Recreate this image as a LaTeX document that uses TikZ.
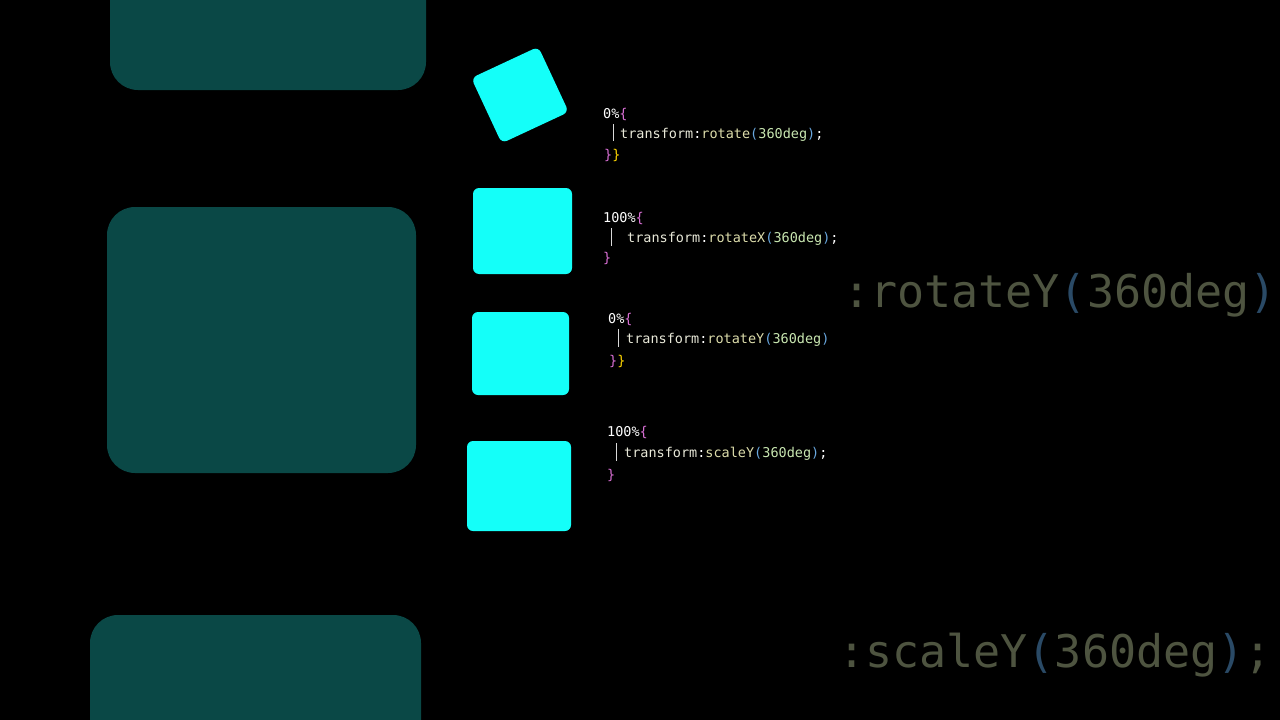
\documentclass[tikz,border=0pt]{standalone}
\usepackage{fontspec}
\setmonofont{DejaVu Sans Mono}
\definecolor{teal1}{HTML}{0A4846}
\definecolor{cyanb}{HTML}{14FFF9}
\definecolor{pur}{HTML}{DA70D6}
\definecolor{yel}{HTML}{FFD700}
\definecolor{fn}{HTML}{DCDCAA}
\definecolor{par}{HTML}{69A8E0}
\definecolor{num}{HTML}{C8E6B0}
\definecolor{kw}{HTML}{E8E8D8}
\definecolor{dimt}{HTML}{4E5440}
\definecolor{dimp}{HTML}{2A4A66}
\tikzset{
 bg/.style={fill=teal1,rounded corners=28pt},
 sq/.style={fill=cyanb,rounded corners=6pt},
 code/.style={anchor=base west,inner sep=0pt,font=\ttfamily\fontsize{13.5}{14}\selectfont,text=white},
 big/.style={anchor=base west,inner sep=0pt,font=\ttfamily\fontsize{45}{46}\selectfont,text=dimt},
 bar/.style={draw=white!85!black,line width=0.8pt}
}
\newcommand{\tline}[1]{\textcolor{kw}{transform}:\textcolor{fn}{#1}\textcolor{par}{(}\textcolor{num}{360deg}\textcolor{par}{)}}
\begin{document}
\begin{tikzpicture}[x=1pt,y=-1pt]
\fill[black] (0,0) rectangle (1280,720);
\useasboundingbox (0,0) rectangle (1280,720);
% background panels
\fill[bg] (110,-40) rectangle (426,90);
\fill[bg] (107,207) rectangle (416,473);
\fill[bg] (90,615) rectangle (421,780);
% squares
\node[sq,minimum width=74pt,minimum height=72pt,rotate=25,inner sep=0pt] (s1) at (520,95) {};
\fill[sq] (473,188) rectangle (572,274);
\fill[sq] (472,312) rectangle (569,395);
\fill[sq] (467,441) rectangle (571,531);
% block 1
\node[code] (a1) at (603,118) {0\%\textcolor{pur}{\{}};
\draw[bar] (613,124) -- (613,141);
\node[code] (a2) at (620,138) {\tline{rotate};};
\node[code] (a3) at (604,159) {\textcolor{pur}{\}}\textcolor{yel}{\}}};
% block 2
\node[code] (b1) at (603,222) {100\%\textcolor{pur}{\{}};
\draw[bar] (611,228) -- (611,246);
\node[code] (b2) at (627,242) {\tline{rotateX};};
\node[code] (b3) at (603,262) {\textcolor{pur}{\}}};
% block 3
\node[code] (c1) at (608,323) {0\%\textcolor{pur}{\{}};
\draw[bar] (618,329) -- (618,347);
\node[code] (c2) at (626,343) {\tline{rotateY}};
\node[code] (c3) at (609,365) {\textcolor{pur}{\}}\textcolor{yel}{\}}};
% block 4
\node[code] (d1) at (607,436) {100\%\textcolor{pur}{\{}};
\draw[bar] (616,443) -- (616,461);
\node[code] (d2) at (624,457) {\tline{scaleY};};
\node[code] (d3) at (607,479) {\textcolor{pur}{\}}};
% big dim text
\begin{scope}
\clip (843,0) rectangle (1280,720);
\node[big] (e1) at (843,307) {:rotateY\textcolor{dimp}{(}360deg\textcolor{dimp}{)}};
\node[big] (e2) at (838,667) {:scaleY\textcolor{dimp}{(}360deg\textcolor{dimp}{)};};
\end{scope}
\end{tikzpicture}
\end{document}
